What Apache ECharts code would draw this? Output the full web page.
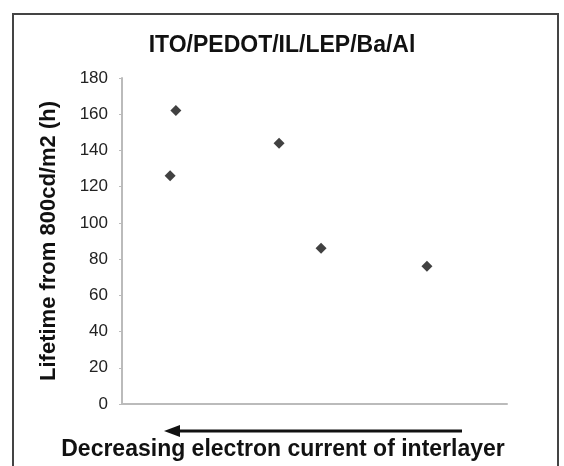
<!DOCTYPE html>
<html>
<head>
<meta charset="utf-8">
<script src="https://cdn.jsdelivr.net/npm/echarts@6/dist/echarts.min.js"></script>
<style>
  html, body { margin: 0; padding: 0; background: #fff; }
  #chart { width: 564px; height: 466px; }
</style>
</head>
<body>
<div id="chart"></div>
<script>
// position along the (unlabelled) interlayer axis, and lifetime in hours
var xPos = [12.5, 14.0, 40.8, 51.7, 79.2];
var lifetime = [126, 162, 144, 86, 76];
var yTicks = [0, 20, 40, 60, 80, 100, 120, 140, 160, 180];

var points = xPos.map(function (x, i) { return [x, lifetime[i]]; });

var chart = echarts.init(document.getElementById('chart'));
chart.setOption({
  backgroundColor: '#fff',
  animation: false,
  title: {
    text: 'ITO/PEDOT/IL/LEP/Ba/Al',
    left: 'center',
    top: 29,
    textStyle: { fontFamily: 'Liberation Sans', fontWeight: 'bold', fontSize: 23, color: '#111' }
  },
  grid: { left: 122, right: 57, top: 78, bottom: 62 },
  xAxis: {
    type: 'value',
    min: 0,
    max: 100,
    axisLine: { lineStyle: { color: '#bbb', width: 2 } },
    axisTick: { show: false },
    axisLabel: { show: false },
    splitLine: { show: false }
  },
  yAxis: {
    type: 'value',
    min: yTicks[0],
    max: yTicks[yTicks.length - 1],
    interval: 20,
    name: 'Lifetime from 800cd/m2 (h)',
    nameLocation: 'middle',
    nameGap: 62,
    nameTextStyle: { fontFamily: 'Liberation Sans', fontWeight: 'bold', fontSize: 22, color: '#111' },
    axisLine: { show: true, lineStyle: { color: '#bbb', width: 2 } },
    axisTick: { show: true, length: 3, lineStyle: { color: '#bbb' } },
    axisLabel: { fontFamily: 'Liberation Sans', fontSize: 17, color: '#222', margin: 14 },
    splitLine: { show: false }
  },
  series: [{
    type: 'scatter',
    symbol: 'diamond',
    symbolSize: 11,
    itemStyle: { color: '#111' },
    data: points
  }],
  graphic: [
    {
      type: 'rect',
      shape: { x: 13, y: 14, width: 545, height: 470 },
      style: { fill: 'none', stroke: '#444', lineWidth: 2 },
      silent: true
    },
    {
      type: 'line',
      shape: { x1: 176, y1: 431, x2: 462, y2: 431 },
      style: { stroke: '#111', lineWidth: 3 }
    },
    {
      type: 'polygon',
      shape: { points: [[164, 431], [180, 425], [180, 437]] },
      style: { fill: '#111' }
    },
    {
      type: 'text',
      x: 283,
      y: 450,
      style: {
        text: 'Decreasing electron current of interlayer',
        fontFamily: 'Liberation Sans',
        fontWeight: 'bold',
        fontSize: 23,
        fill: '#111',
        textAlign: 'center',
        textVerticalAlign: 'middle'
      }
    }
  ]
});
</script>
</body>
</html>
